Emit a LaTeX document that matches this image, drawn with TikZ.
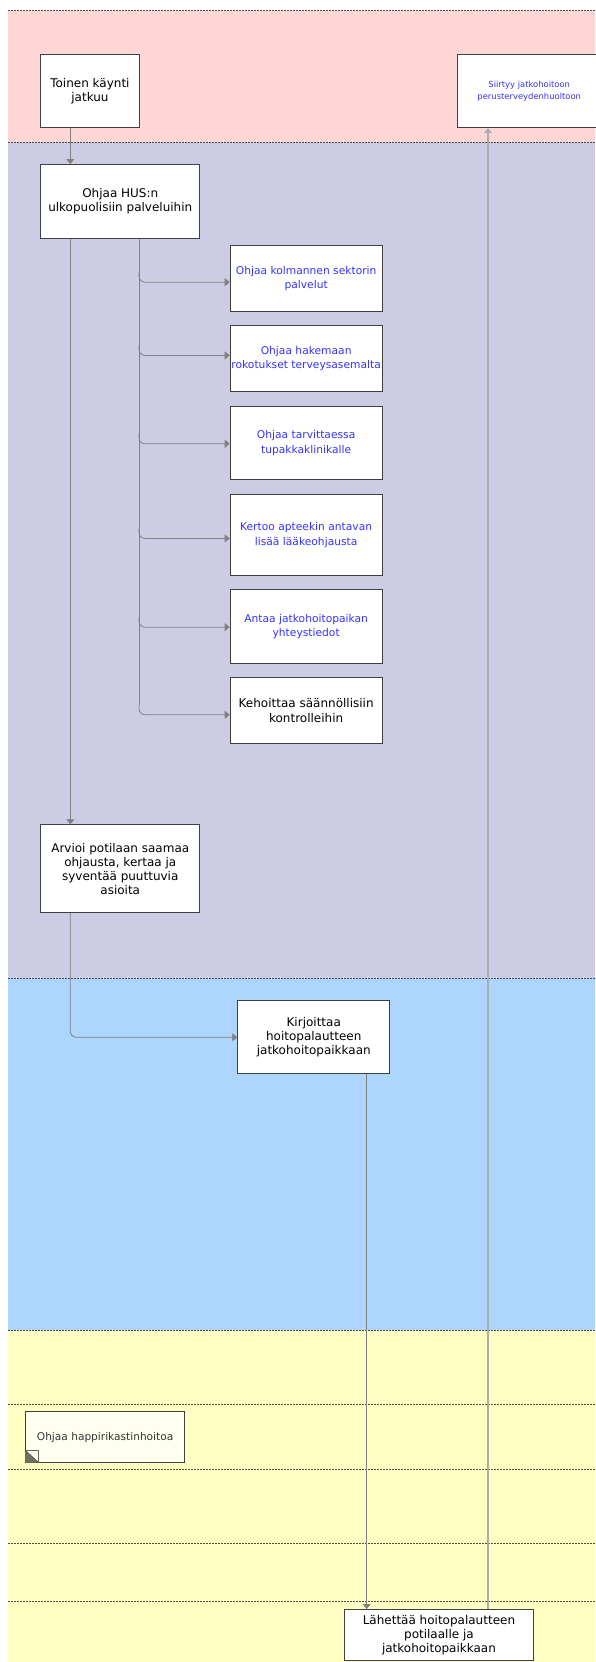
\documentclass[tikz,border=0pt]{standalone}
\usepackage{fontspec}
\setmainfont{DejaVu Sans}
\usetikzlibrary{arrows.meta,calc}
\definecolor{bandpink}{RGB}{255,214,214}
\definecolor{bandpurple}{RGB}{204,204,229}
\definecolor{bandblue}{RGB}{173,214,255}
\definecolor{bandyellow}{RGB}{255,255,196}
\definecolor{boxline}{RGB}{64,64,64}
\definecolor{conncol}{RGB}{128,128,128}
\definecolor{conncoltwo}{RGB}{172,172,172}
\definecolor{linkblue}{RGB}{51,51,255}
\definecolor{cream}{RGB}{255,255,240}
\definecolor{icondark}{RGB}{112,112,96}
\begin{document}
\begin{tikzpicture}[x=1pt,y=-1pt,
  sep/.style={draw=black!70, line width=0.6pt, dash pattern=on 1.5pt off 1.5pt},
  box/.style={draw=boxline, fill=white, line width=0.9pt, anchor=north west, inner sep=0pt, align=center},
  blk/.style={font=\fontsize{12}{14.5}\selectfont, text=black},
  blu/.style={font=\fontsize{10.7}{14.5}\selectfont, text=linkblue},
  trunk/.style={draw=conncol, line width=0.8pt},
  conn/.style={draw=conncol, line width=0.8pt, -{Triangle[length=5pt,width=8pt]}, rounded corners=6pt},
  conntwo/.style={draw=conncoltwo, line width=1.3pt, -{Triangle[length=5pt,width=8pt]}},
]
\useasboundingbox (0,0) rectangle (595,1662);
% lanes
\fill[bandpink]   (8,10.3)   rectangle (595,142.3);
\fill[bandpurple] (8,142.3)  rectangle (595,978.3);
\fill[bandblue]   (8,978.3)  rectangle (595,1330.3);
\fill[bandyellow] (8,1330.3) rectangle (595,1662);
\foreach \yy in {10.3,142.3,978.3,1330.3,1404,1469.7,1543.3,1601.3}
  \draw[sep] (8,\yy) -- (595,\yy);

% columns for connectors
\coordinate (c1) at (70.3,0);
\coordinate (c2) at (139,0);
\coordinate (c3) at (366.7,0);
\coordinate (c4) at (488,0);

% nodes
\node[box,blk,minimum width=98.4pt,minimum height=73pt] (toinen) at (40.3,54.3) {Toinen käynti\\jatkuu};
\node[box,font=\fontsize{8.4}{11.7}\selectfont,text=linkblue,minimum width=143pt,minimum height=73pt] (siirtyy) at (457.3,54.3) {Siirtyy jatkohoitoon\\perusterveydenhuoltoon};
\node[box,blk,minimum width=159pt,minimum height=73.7pt] (hus) at (40.3,164) {Ohjaa HUS:n\\ulkopuolisiin palveluihin};

\node[box,blu,minimum width=152pt,minimum height=66pt] (b1) at (229.7,245) {Ohjaa kolmannen sektorin\\palvelut};
\node[box,blu,minimum width=152pt,minimum height=66pt] (b2) at (229.7,325.3) {Ohjaa hakemaan\\rokotukset terveysasemalta};
\node[box,blu,minimum width=152pt,minimum height=73pt] (b3) at (229.7,406.3) {Ohjaa tarvittaessa\\tupakkaklinikalle};
\node[box,blu,minimum width=152pt,minimum height=80.7pt] (b4) at (229.7,494.3) {Kertoo apteekin antavan\\lisää lääkeohjausta};
\node[box,blu,minimum width=152pt,minimum height=74pt] (b5) at (229.7,589.3) {Antaa jatkohoitopaikan\\yhteystiedot};
\node[box,blk,minimum width=152pt,minimum height=66pt] (b6) at (229.7,677.3) {Kehoittaa säännöllisiin\\kontrolleihin};

\node[box,blk,font=\fontsize{12}{14}\selectfont,minimum width=159pt,minimum height=88pt] (arv) at (40.3,824.3) {Arvioi potilaan saamaa\\ohjausta, kertaa ja\\syventää puuttuvia\\asioita};
\node[box,blk,font=\fontsize{12}{13.8}\selectfont,minimum width=152pt,minimum height=73pt] (kir) at (237.3,1000.3) {Kirjoittaa\\hoitopalautteen\\jatkohoitopaikkaan};
\node[box,fill=cream,font=\fontsize{10.6}{13}\selectfont,text=black!80,minimum width=159.3pt,minimum height=51pt] (happi) at (25,1411.3) {Ohjaa happirikastinhoitoa};
\node[box,blk,font=\fontsize{12}{14.2}\selectfont,minimum width=189.6pt,minimum height=51pt] (fin) at (343.7,1609) {Lähettää hoitopalautteen\\potilaalle ja\\jatkohoitopaikkaan};

% note icon
\fill[icondark] (25,1450) -- (25,1462.3) -- (38.3,1462.3) -- cycle;
\draw[black!60, line width=0.6pt] (25,1450) rectangle (38.3,1462.3);
\draw[black!70, line width=0.6pt] (25,1450) -- (38.3,1462.3);

% connectors
\draw[conn] (toinen.south -| c1) -- (hus.north -| c1);
\draw[conn] (hus.south -| c1) -- (arv.north -| c1);
% fan-out from HUS: one trunk, then a branch to each box
\coordinate (bend) at ([yshift=-4pt]b6.west -| c2);
\draw[trunk] (hus.south -| c2) -- ([yshift=10pt]bend);
\foreach \b/\s in {b1/-3.7,b2/3.3,b3/-0.5,b4/-3.3,b5/-0.4,b6/-4}
  \draw[conn] ([yshift=\s pt+10pt]\b.west -| c2) |- ([yshift=\s pt]\b.west);
\draw[conn] (arv.south -| c1) |- (kir.west);
\draw[conn] (kir.south -| c3) -- (fin.north -| c3);
\draw[conntwo] (fin.north -| c4) -- (siirtyy.south -| c4);
\end{tikzpicture}
\end{document}
